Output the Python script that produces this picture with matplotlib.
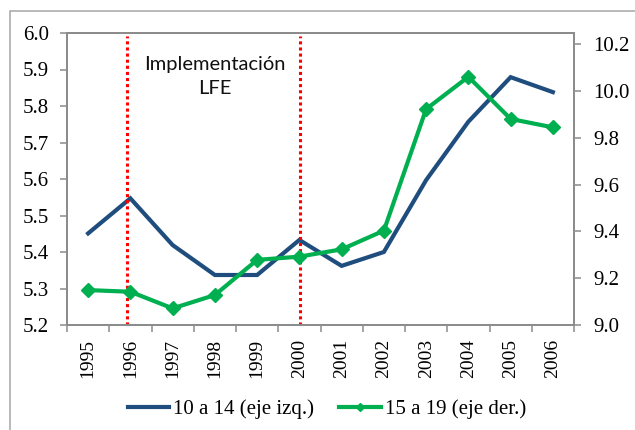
import matplotlib
matplotlib.use("Agg")
import matplotlib.pyplot as plt
from matplotlib.patches import Rectangle
from matplotlib.ticker import FixedLocator, NullFormatter, FixedFormatter

years = ['1995', '1996', '1997', '1998', '1999', '2000',
         '2001', '2002', '2003', '2004', '2005', '2006']
serie_10_14 = [5.451, 5.547, 5.419, 5.337, 5.337, 5.433,
               5.362, 5.400, 5.597, 5.757, 5.879, 5.838]
serie_15_19 = [9.149, 9.142, 9.071, 9.128, 9.278, 9.292,
               9.323, 9.403, 9.922, 10.060, 9.880, 9.844]
event_years = ['1996', '2000']
left_ticks = [5.2, 5.3, 5.4, 5.5, 5.6, 5.7, 5.8, 5.9, 6.0]
right_ticks = [9.0, 9.2, 9.4, 9.6, 9.8, 10.0, 10.2]
label_10_14 = '10 a 14 (eje izq.)'
label_15_19 = '15 a 19 (eje der.)'
annot = 'Implementación\nLFE'

BLUE = '#1F4E7E'
GREEN = '#00B050'
RED = '#FF0000'
GRAY = '#8C8C8C'
SERIF = 'Liberation Serif'

W, H = 635, 430
fig = plt.figure(figsize=(W / 100, H / 100), dpi=100)
ax = fig.add_axes([67 / W, 1 - 325 / H, (574 - 67) / W, (325 - 33) / H])
ax2 = ax.twinx()

# outer border (clipped at right/bottom)
fig.patches.append(Rectangle((10 / W, -0.05), 1.2, 1 - 11 / H + 0.05,
                             transform=fig.transFigure, fill=False,
                             edgecolor='#A6A6A6', linewidth=1.1, clip_on=False))

x = list(range(len(years)))
l1, = ax.plot(x, serie_10_14, color=BLUE, lw=3.0, solid_joinstyle='miter',
              label=label_10_14, zorder=3)
l2, = ax2.plot(x, serie_15_19, color=GREEN, lw=3.0, marker='D', markersize=7.5,
               label=label_15_19, zorder=3)

for ev in event_years:
    ax.axvline(years.index(ev) - (0.07 if ev == '1996' else -0.02),
               ymin=0, ymax=0.99, color=RED, lw=2.2,
               linestyle=(0, (1, 1)), zorder=4)

ax.set_xlim(-0.5, len(years) - 0.5)
ax.set_ylim(5.2, 6.0)
ax2.set_ylim(9.0, 10.247)
ax2.set_xlim(-0.5, len(years) - 0.5)

ax.yaxis.set_major_locator(FixedLocator(left_ticks))
ax.set_yticklabels([f'{v:.1f}' for v in left_ticks])
ax2.yaxis.set_major_locator(FixedLocator(right_ticks))
ax2.set_yticklabels([f'{v:.1f}' for v in right_ticks])

# x ticks at category boundaries, labels at centers
ax.xaxis.set_major_locator(FixedLocator([i - 0.5 for i in range(len(years) + 1)]))
ax.xaxis.set_major_formatter(NullFormatter())
ax.xaxis.set_minor_locator(FixedLocator(x))
ax.xaxis.set_minor_formatter(FixedFormatter(years))
ax.tick_params(axis='x', which='major', length=5, width=1.1, color=GRAY, direction='out')
ax.tick_params(axis='x', which='minor', length=0, pad=10, labelsize=14,
               labelrotation=90)
ax.tick_params(axis='y', length=5, width=1.1, color=GRAY, pad=8, labelsize=15)
ax2.tick_params(axis='y', length=5, width=1.1, color=GRAY, pad=9, labelsize=15)

for a in (ax, ax2):
    for s in a.spines.values():
        s.set_color(GRAY)
        s.set_linewidth(1.4)
    for lab in a.get_xticklabels(which='both') + a.get_yticklabels():
        lab.set_fontfamily(SERIF)
ax2.tick_params(axis='x', which='both', bottom=False, labelbottom=False)

ax.text(3, 5.881, annot, ha='center', va='center', fontsize=14.5,
        family='Lato', linespacing=1.55, color='#111111', zorder=5)

fig.legend(handles=[l1, l2], loc='center', bbox_to_anchor=(327 / W, 1 - 409 / H),
           ncol=2, frameon=False, prop={'family': SERIF, 'size': 15},
           handlelength=2.0, handletextpad=0.2, columnspacing=1.2,
           borderaxespad=0, markerscale=0.6)

fig.savefig('out.png', dpi=100)
